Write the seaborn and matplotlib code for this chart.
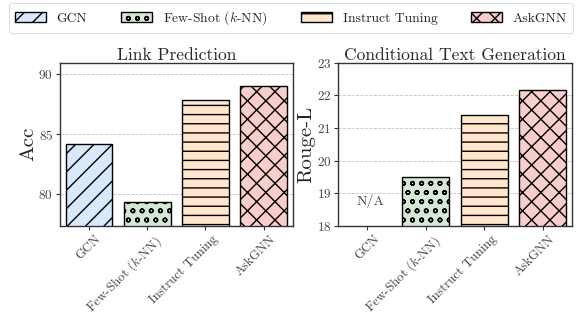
import numpy as np
import pandas as pd
import matplotlib
matplotlib.use("Agg")
import matplotlib.pyplot as plt
import matplotlib.transforms as mtransforms
from matplotlib.patches import Patch
import seaborn as sns

# data
methods = ["GCN", "Few-Shot ($k$-NN)", "Instruct Tuning", "AskGNN"]
link_acc = [84.2, 79.3, 87.9, 89.0]
text_rouge = [np.nan, 19.5, 21.4, 22.15]   # GCN is N/A

colors = ["#dae8fc", "#d5e8d4", "#ffe6cc", "#f8cecc"]
hatches = ["/", "o", "-", "x"]

# low dpi, big figure: keeps the hatch spacing close to the reference
DPI = 55
K = 100 / DPI   # points scale so sizes below read as if at 100 dpi

sns.set_style("white")
plt.rcParams["font.family"] = ["cmr10", "DejaVu Serif"]
plt.rcParams["mathtext.fontset"] = "cm"
plt.rcParams["axes.formatter.use_mathtext"] = True
plt.rcParams["hatch.linewidth"] = 1.0 * K

fig = plt.figure(figsize=(582 / DPI, 316 / DPI), dpi=DPI)
ax1 = fig.add_axes([0.103, 0.285, 0.400, 0.517])
ax2 = fig.add_axes([0.581, 0.285, 0.402, 0.517])

df1 = pd.DataFrame({"method": methods, "value": link_acc})
df2 = pd.DataFrame({"method": methods, "value": text_rouge})

# nudge rotated tick labels a bit to the right, as in the reference
shift = mtransforms.ScaledTranslation(6 / DPI, 0, fig.dpi_scale_trans)


def draw(ax, df, title, ylabel, ylim, yticks):
    sns.barplot(data=df, x="method", y="value", hue="method", palette=colors,
                order=methods, hue_order=methods, width=0.8, saturation=1,
                edgecolor="black", linewidth=1.0 * K, legend=False, ax=ax)
    for p in ax.patches:
        i = int(round(p.get_x() + p.get_width() / 2))
        p.set_hatch(hatches[i])
    ax.set_ylim(*ylim)
    ax.set_yticks(yticks)
    ax.set_title(title, fontsize=12.6 * K, pad=2 * K)
    ax.set_xlabel("")
    ax.set_ylabel(ylabel, fontsize=15 * K, labelpad=1 * K)
    ax.yaxis.grid(True, linestyle="--", color="#c4c4c4", linewidth=0.6 * K)
    ax.set_axisbelow(True)
    ax.tick_params(axis="both", length=3 * K, width=0.8 * K, color="#333333",
                   labelcolor="#444444", pad=2 * K,
                   direction="out", bottom=True, left=True)
    ax.tick_params(axis="y", labelsize=9.5 * K)
    ax.tick_params(axis="x", labelsize=9.4 * K)
    ax.set_xticks(range(len(methods)))
    ax.set_xticklabels(methods, rotation=45, ha="right", rotation_mode="anchor")
    for lab in ax.get_xticklabels():
        lab.set_transform(lab.get_transform() + shift)
    for s in ax.spines.values():
        s.set_color("#333333")
        s.set_linewidth(1.0 * K)


draw(ax1, df1, "Link Prediction", "Acc", (77.3, 91.0), [80, 85, 90])
draw(ax2, df2, "Conditional Text Generation", "Rouge-L", (18, 23), [18, 19, 20, 21, 22, 23])
ax2.text(0.05, 18.75, "N/A", ha="center", va="center", fontsize=10 * K, color="#444444")

handles = [Patch(facecolor=c, edgecolor="black", hatch=h, linewidth=1.0 * K)
           for c, h in zip(colors, hatches)]
fig.legend(handles, methods, loc="upper center", bbox_to_anchor=(0.5, 1.0),
           ncol=4, fontsize=9.8 * K, frameon=True, fancybox=True,
           handlelength=2.25, handleheight=0.8, handletextpad=0.8,
           columnspacing=2.5, edgecolor="#cccccc", borderpad=0.45,
           borderaxespad=0.25)

fig.savefig("out.png", dpi=DPI)
